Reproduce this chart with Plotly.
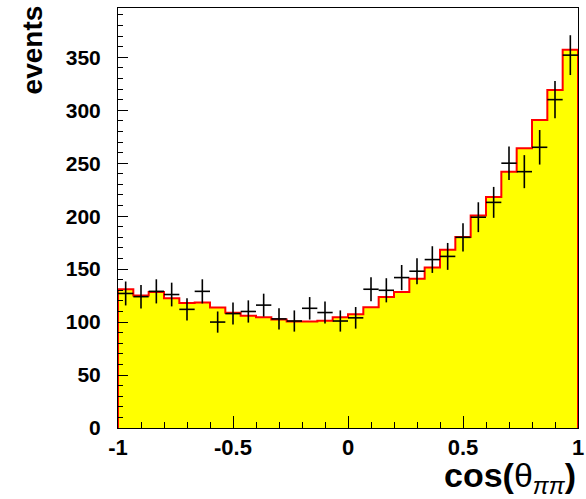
import numpy as np
import plotly.graph_objects as go

# Bin edges of cos(theta_pipi): 30 bins from -1 to 1
edges = np.linspace(-1, 1, 31)
centers = 0.5 * (edges[:-1] + edges[1:])

# MC histogram (yellow, red outline)
mc_counts = [131, 125, 128.5, 122.6, 118, 118.5, 113.8, 108.7, 106, 104.5,
             102.5, 100.5, 100.5, 101.3, 104.5, 107.5, 114, 123.6, 128.3, 140.8,
             151.5, 168.2, 180.2, 200.6, 218, 242, 264, 290.8, 319, 357]

# Data points
data_counts = [127, 124, 129, 126, 112, 129, 100, 108, 110, 116,
               103, 101, 113, 109, 101, 104, 131, 130, 142, 148,
               159, 162, 180, 199, 213, 250, 242, 265, 310, 352]
data_errors = [11.3, 11.1, 11.4, 11.2, 10.6, 11.4, 10.0, 10.4, 10.5, 10.8,
               10.1, 10.0, 10.6, 10.4, 10.0, 10.2, 11.4, 11.4, 11.9, 12.2,
               12.6, 12.7, 13.4, 14.1, 14.6, 15.8, 15.6, 16.3, 17.6, 18.8]

y_ticks = [0, 50, 100, 150, 200, 250, 300, 350]
x_ticks = [-1, -0.5, 0, 0.5, 1]
x_ticklabels = ["-1", "-0.5", "0", "0.5", "1"]

# Step outline for the histogram
sx = [edges[0]] + list(edges[:-1]) + [edges[-1], edges[-1]]
sy = [0] + list(mc_counts) + [mc_counts[-1], 0]

halfw = (edges[1] - edges[0]) / 2

fig = go.Figure()
fig.add_trace(go.Scatter(
    x=sx, y=sy, mode="lines", line=dict(color="#ff0000", width=2, shape="hv"),
    fill="tozeroy", fillcolor="#ffff00", hoverinfo="skip", showlegend=False))
fig.add_trace(go.Scatter(
    x=centers, y=data_counts, mode="markers",
    marker=dict(size=1, color="black"),
    error_y=dict(type="data", array=data_errors, color="black", thickness=1.6, width=0),
    error_x=dict(type="constant", value=halfw, color="black", thickness=1.6, width=0),
    showlegend=False))

font_family = "Liberation Sans, Arial, sans-serif"

fig.update_layout(
    width=586, height=499,
    margin=dict(l=118, r=8, t=8, b=71, autoexpand=False),
    paper_bgcolor="white", plot_bgcolor="white",
    xaxis=dict(
        range=[-1, 1], showgrid=False, zeroline=False, automargin=False,
        showline=True, mirror=True, linecolor="black", linewidth=1,
        ticks="inside", ticklen=12, tickcolor="black",
        tickvals=x_ticks, ticktext=x_ticklabels,
        tickfont=dict(family=font_family, size=22, color="black", weight="bold"),
        minor=dict(dtick=0.1, ticks="inside", ticklen=6, tickcolor="black"),
        ticklabelstandoff=0,
        layer="above traces"),
    yaxis=dict(
        range=[0, 396.5], showgrid=False, zeroline=False, automargin=False,
        showline=True, mirror=True, linecolor="black", linewidth=1,
        ticks="inside", ticklen=10, tickcolor="black",
        tickvals=y_ticks,
        tickfont=dict(family=font_family, size=21, color="black", weight="bold"),
        minor=dict(dtick=10, ticks="inside", ticklen=5, tickcolor="black"),
        ticklabelstandoff=12,
        layer="above traces"),
    annotations=[
        dict(text="<b>events</b>", xref="paper", yref="paper",
             x=-0.187, y=1.012, xanchor="center", yanchor="top", textangle=-90,
             showarrow=False, font=dict(family=font_family, size=28, color="black")),
        dict(text="<b>cos(</b>θ<sub><i>ππ</i></sub><b>)</b>", xref="paper", yref="paper",
             x=1.0, y=-0.118, xanchor="right", yanchor="middle",
             showarrow=False, font=dict(family=font_family, size=34, color="black")),
    ],
)

fig.write_html("out.html", config={"displayModeBar": False},
               post_script="document.body.style.margin='0';document.body.style.overflow='hidden';")
